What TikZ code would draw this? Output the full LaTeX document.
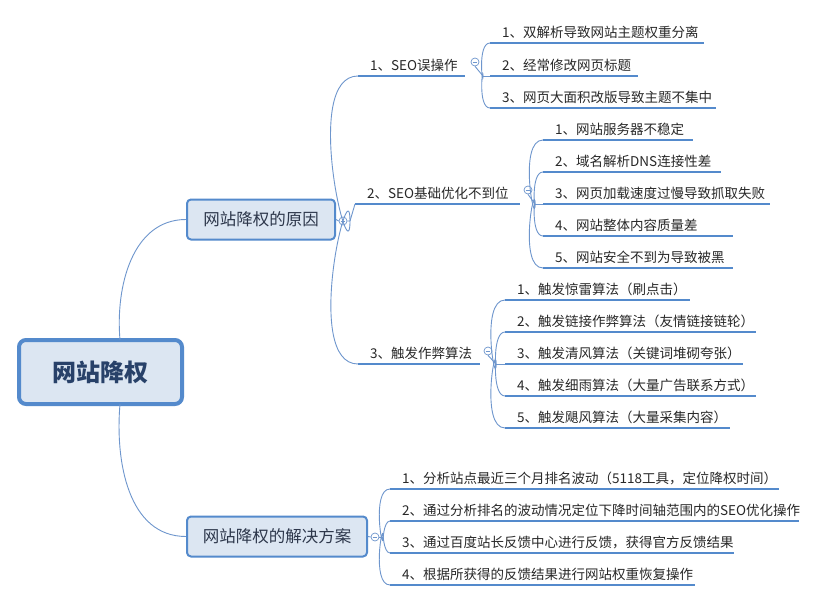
\documentclass[tikz,border=0pt]{standalone}
\usepackage{fontspec}
\setmainfont{Noto Sans CJK SC}
\definecolor{ulc}{RGB}{84,138,204}
\definecolor{cvc}{RGB}{110,150,205}
\definecolor{fillc}{RGB}{220,230,242}
\definecolor{txc}{RGB}{40,40,40}
\definecolor{tpc}{RGB}{45,55,75}
\definecolor{rtc}{RGB}{40,65,105}
\begin{document}
\begin{tikzpicture}[x=1pt,y=-1pt,
  ul/.style={draw=ulc, line width=2.6pt},
  curve/.style={draw=cvc, line width=0.9pt},
  leaf/.style={anchor=south west, inner sep=0pt, font=\fontsize{13.5}{15}\selectfont, text=txc},
  topic/.style={draw=ulc, line width=2pt, fill=fillc, rounded corners=4pt, font=\fontsize{16.5}{18}\selectfont, text=tpc, inner sep=0pt},
  tog/.style={circle, draw=cvc, line width=0.7pt, fill=white, minimum size=8pt, inner sep=0pt, path picture={\draw[line width=0.6pt,cvc] ([xshift=-2.3pt]path picture bounding box.center) -- ([xshift=2.3pt]path picture bounding box.center);}}
]
\useasboundingbox (0,0) rectangle (817,602);
\fill[white] (0,0) rectangle (817,602);
% root
\node[topic, line width=4pt, rounded corners=7pt, minimum width=163pt, minimum height=64pt, font=\fontsize{24}{26}\selectfont\bfseries, text=rtc] (root) at (100.5,372) {网站降权};
\node[topic, minimum width=148pt, minimum height=40pt] (b1) at (261,219.5) {网站降权的原因};
\node[topic, minimum width=180pt, minimum height=40pt] (b2) at (277,536.5) {网站降权的解决方案};
\draw[curve] (120,340) to[out=95,in=180] (b1.west);
\draw[curve] (120,404) to[out=-95,in=180] (b2.west);
\node[tog] (t1) at (343,221) {};
\node[tog] (t2) at (375,537) {};
\draw[curve] (b1.east) -- (t1.west);
\draw[curve] (b2.east) -- (t2.west);
\coordinate (f1) at (350,221);
\coordinate (f2) at (383,537);
\newcommand\leafn[5]{% name, x0, y, length, text
  \coordinate (#1u) at (#2,#3);
  \node[leaf] (#1) at (#2+12,#3-4) {#5};
  \draw[ul] (#1u) -- ++(#4,0);}
\leafn{s1}{358}{76}{107}{1、SEO误操作}
\leafn{s2}{355}{204}{165}{2、SEO基础优化不到位}
\leafn{s3}{358}{364}{122}{3、触发作弊算法}
\draw[curve] (t1.east) -- (f1) to[out=-90,in=180] (s1u);
\draw[curve] (f1) -- (s2u);
\draw[curve] (f1) to[out=90,in=180] (s3u);
\node[tog] (u1) at (475,62) {};
\node[tog] (u2) at (528,190) {};
\node[tog] (u3) at (488,351) {};
\coordinate (g1) at (483,76);
\coordinate (g2) at (535,204);
\coordinate (g3) at (496,364);
\draw[curve] (u1.south) -- (g1);
\draw[curve] (u2.south) -- (g2);
\draw[curve] (u3.south) -- (g3);
% SEO misop
\leafn{a1}{490}{43}{214}{1、双解析导致网站主题权重分离}
\leafn{a2}{490}{76}{148}{2、经常修改网页标题}
\leafn{a3}{490}{108}{226}{3、网页大面积改版导致主题不集中}
\foreach \n/\o in {a1/-90,a3/90}{\draw[curve] (g1) to[out=\o,in=180] (\n u);}
\draw[curve] (g1) -- (a2u);
% SEO basic
\leafn{c1}{543}{140}{150}{1、网站服务器不稳定}
\leafn{c2}{543}{172}{178}{2、域名解析DNS连接性差}
\leafn{c3}{543}{204}{227}{3、网页加载速度过慢导致抓取失败}
\leafn{c4}{543}{236}{190}{4、网站整体内容质量差}
\leafn{c5}{543}{268}{190}{5、网站安全不到为导致被黑}
\foreach \n/\o in {c1/-90,c2/-90,c4/90,c5/90}{\draw[curve] (g2) to[out=\o,in=180] (\n u);}
\draw[curve] (g2) -- (c3u);
% algorithms
\leafn{d1}{505}{300}{185}{1、触发惊雷算法（刷点击）}
\leafn{d2}{505}{332}{251}{2、触发链接作弊算法（友情链接链轮）}
\leafn{d3}{505}{364}{238}{3、触发清风算法（关键词堆砌夸张）}
\leafn{d4}{505}{396}{251}{4、触发细雨算法（大量广告联系方式）}
\leafn{d5}{505}{428}{225}{5、触发飓风算法（大量采集内容）}
\foreach \n/\o in {d1/-90,d2/-90,d4/90,d5/90}{\draw[curve] (g3) to[out=\o,in=180] (\n u);}
\draw[curve] (g3) -- (d3u);
% solutions
\leafn{e1}{390}{489}{389}{1、分析站点最近三个月排名波动（5118工具，定位降权时间）}
\leafn{e2}{390}{521}{409}{2、通过分析排名的波动情况定位下降时间轴范围内的SEO优化操作}
\leafn{e3}{390}{553}{344}{3、通过百度站长反馈中心进行反馈，获得官方反馈结果}
\leafn{e4}{390}{585}{305}{4、根据所获得的反馈结果进行网站权重恢复操作}
\draw[curve] (t2.east) -- (f2);
\foreach \n/\o in {e1/-90,e2/-90,e3/90,e4/90}{\draw[curve] (f2) to[out=\o,in=180] (\n u);}
\end{tikzpicture}
\end{document}
